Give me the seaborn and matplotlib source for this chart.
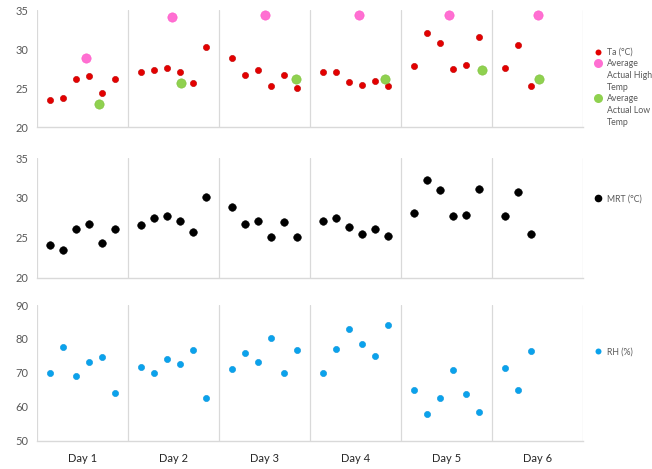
import matplotlib
matplotlib.use("Agg")
import matplotlib.pyplot as plt
from matplotlib.lines import Line2D
import seaborn as sns
import pandas as pd

# lectures par jour (6 jours, 6 mesures sauf le dernier jour)
days = ["Day 1", "Day 2", "Day 3", "Day 4", "Day 5", "Day 6"]
per_day = [6, 6, 6, 6, 6, 3]

ta = [23.5, 23.7, 26.2, 26.5, 24.3, 26.1,
      27.0, 27.3, 27.6, 27.1, 25.6, 30.3,
      28.8, 26.7, 27.3, 25.3, 26.7, 25.0,
      27.1, 27.1, 25.8, 25.4, 25.9, 25.3,
      27.8, 32.1, 30.8, 27.4, 28.0, 31.6,
      27.6, 30.5, 25.3]
mrt = [24.1, 23.5, 26.1, 26.7, 24.3, 26.1,
       26.6, 27.5, 27.7, 27.1, 25.7, 30.1,
       28.9, 26.7, 27.1, 25.1, 27.0, 25.1,
       27.1, 27.5, 26.3, 25.4, 26.1, 25.2,
       28.1, 32.3, 31.0, 27.7, 27.9, 31.1,
       27.7, 30.7, 25.5]
rh = [70.0, 77.5, 69.2, 73.1, 74.7, 64.2,
      71.8, 70.0, 74.2, 72.6, 76.7, 62.7,
      71.0, 75.9, 73.2, 80.2, 70.0, 76.7,
      70.0, 77.0, 83.0, 78.6, 75.0, 84.1,
      65.0, 57.8, 62.7, 70.7, 63.9, 58.5,
      71.3, 65.0, 76.5]

high_temp = [28.9, 34.1, 34.4, 34.3, 34.3, 34.3]
high_pos = [3.8, 3.4, 3.5, 3.8, 3.7, 3.5]
low_temp = [22.9, 25.6, 26.2, 26.2, 27.3, 26.2]
low_pos = [4.8, 4.1, 5.9, 5.8, 6.2, 3.6]

SLOTS = 7
x_read = [d * SLOTS + i + 1 for d, n in enumerate(per_day) for i in range(n)]
readings = pd.DataFrame({"x": x_read, "ta": ta, "mrt": mrt, "rh": rh})
daily = pd.DataFrame({
    "x_high": [d * SLOTS + p for d, p in enumerate(high_pos)],
    "high": high_temp,
    "x_low": [d * SLOTS + p for d, p in enumerate(low_pos)],
    "low": low_temp,
})

sns.set_style("white")
plt.rcParams["font.family"] = ["Lato", "DejaVu Sans"]

fig = plt.figure(figsize=(6.52, 4.69), dpi=100)
W, H = 652, 469
left, right = 37, 583


def make_ax(top, bottom):
    return fig.add_axes([left / W, 1 - bottom / H, (right - left) / W, (bottom - top) / H])


ax1 = make_ax(10, 127)
ax2 = make_ax(158, 277.5)
ax3 = make_ax(305, 440.7)

RED, PINK, GREEN, BLUE = "#E30000", "#FF6FD2", "#8FD14F", "#0AA2EC"

sns.scatterplot(data=readings, x="x", y="ta", ax=ax1, color=RED, s=20,
                edgecolor="#C00000", linewidth=0.4)
sns.scatterplot(data=daily, x="x_high", y="high", ax=ax1, color=PINK, s=45,
                edgecolor="#FF55C8", linewidth=0.4)
sns.scatterplot(data=daily, x="x_low", y="low", ax=ax1, color=GREEN, s=45,
                edgecolor="#7DC03C", linewidth=0.4)
sns.scatterplot(data=readings, x="x", y="mrt", ax=ax2, color="black", s=30,
                edgecolor="black", linewidth=0.4)
sns.scatterplot(data=readings, x="x", y="rh", ax=ax3, color=BLUE, s=20,
                edgecolor="#0A96DC", linewidth=0.4)


def dot(c, ms):
    return Line2D([], [], marker="o", linestyle="", color=c, markersize=ms, markeredgewidth=0)


blank = Line2D([], [], linestyle="", marker="")

legends = [
    (ax1, [dot(RED, 4.3), dot(PINK, 6.5), blank, blank, dot(GREEN, 6.5), blank, blank],
     ["Ta (°C)", "Average", "Actual High", "Temp", "Average", "Actual Low", "Temp"], 0.34),
    (ax2, [dot("black", 5.5)], ["MRT (°C)"], 0.657),
    (ax3, [dot(BLUE, 4.3)], ["RH (%)"], 0.654),
]

limits = {ax1: (20, 35, 5), ax2: (20, 35, 5), ax3: (50, 90, 10)}
for ax, handles, labels, leg_y in legends:
    lo, hi, step = limits[ax]
    ax.set_xlim(0, SLOTS * len(days))
    ax.set_ylim(lo, hi)
    ax.set_yticks(range(lo, hi + 1, step))
    ax.set_xticks(range(0, SLOTS * len(days) + 1, SLOTS))
    ax.set_xticklabels([])
    ax.grid(axis="x", color="#D9D9D9", linewidth=0.9)
    ax.grid(axis="y", visible=False)
    ax.tick_params(axis="both", length=0, labelsize=8, labelcolor="#595959", pad=6)
    ax.set_xlabel("")
    ax.set_ylabel("")
    for side in ["top", "right", "left"]:
        ax.spines[side].set_visible(False)
    ax.spines["bottom"].set_color("#D9D9D9")
    ax.spines["bottom"].set_linewidth(1.0)
    leg = ax.legend(handles, labels, loc="center left", bbox_to_anchor=(1.019, leg_y),
                    frameon=False, fontsize=6.3, handlelength=1.0, handletextpad=0.6,
                    labelspacing=0.3, borderpad=0, borderaxespad=0.0)
    for t in leg.get_texts():
        t.set_color("#595959")

ax3.set_xticks([d * SLOTS + SLOTS / 2 for d in range(len(days))], minor=True)
ax3.set_xticklabels(days, minor=True)
ax3.tick_params(axis="x", which="minor", length=0, labelsize=8, labelcolor="#262626", pad=9)

fig.savefig("out.png", dpi=100)
